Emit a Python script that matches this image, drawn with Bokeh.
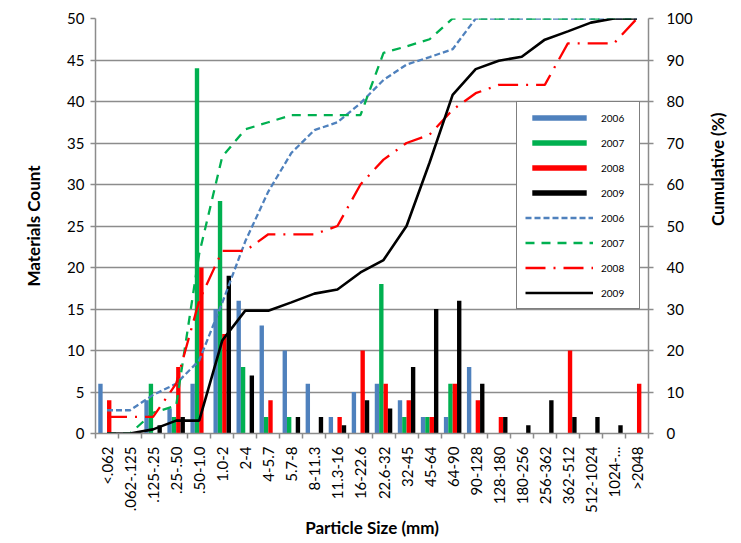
import numpy as np
from bokeh.plotting import figure
from bokeh.models import Range1d, LinearAxis, FixedTicker, Legend, LegendItem, ColumnDataSource, Grid
from bokeh.transform import dodge
from bokeh.embed import file_html
from bokeh.resources import INLINE

categories = ["<.062", ".062-.125", ".125-.25", ".25-.50", ".50-1.0", "1.0-2", "2-4",
              "4-5.7", "5.7-8", "8-11.3", "11.3-16", "16-22.6", "22.6-32", "32-45",
              "45-64", "64-90", "90-128", "128-180", "180-256", "256-362", "362-512",
              "512-1024", "1024-...", ">2048"]

count_2006 = [6, 0, 4, 3, 6, 15, 16, 13, 10, 6, 2, 5, 6, 4, 2, 2, 8, 0, 0, 0, 0, 0, 0, 0]
count_2007 = [0, 0, 6, 2, 44, 28, 8, 2, 2, 0, 0, 0, 18, 2, 2, 6, 0, 0, 0, 0, 0, 0, 0, 0]
count_2008 = [4, 0, 0, 8, 20, 12, 0, 4, 0, 0, 2, 10, 6, 4, 2, 6, 4, 2, 0, 0, 10, 0, 0, 6]
count_2009 = [0, 0, 1, 2, 0, 19, 7, 0, 2, 2, 1, 4, 3, 8, 15, 16, 6, 2, 1, 4, 2, 2, 1, 0]

cum_2006 = [5.6, 5.6, 9.3, 12.0, 17.6, 31.5, 46.3, 58.3, 67.6, 73.1, 75.0, 79.6, 85.2, 88.9,
            90.7, 92.6, 100, 100, 100, 100, 100, 100, 100, 100]
cum_2007 = [0, 0, 5.0, 6.7, 43.3, 66.7, 73.3, 75.0, 76.7, 76.7, 76.7, 76.7, 91.7, 93.3,
            95.0, 100, 100, 100, 100, 100, 100, 100, 100, 100]
cum_2008 = [4, 4, 4, 12, 32, 44, 44, 48, 48, 48, 50, 60, 66, 70, 72, 78, 82, 84, 84, 84,
            94, 94, 94, 100]
cum_2009 = [0, 0, 1.0, 3.1, 3.1, 22.4, 29.6, 29.6, 31.6, 33.7, 34.7, 38.8, 41.8, 50.0,
            65.3, 81.6, 87.8, 89.8, 90.8, 94.9, 96.9, 99.0, 100, 100]

years = ["2006", "2007", "2008", "2009"]
colors = ["#4F81BD", "#00B050", "#FF0000", "#000000"]

n = len(categories)
xpos = [i + 0.5 for i in range(n)]
src = ColumnDataSource(dict(x=xpos, c2006=count_2006, c2007=count_2007, c2008=count_2008,
                            c2009=count_2009, k2006=cum_2006, k2007=cum_2007,
                            k2008=cum_2008, k2009=cum_2009))

FONT = "Lato"
GRID = "#8C8C8C"

p = figure(width=741, height=543, output_backend="svg", toolbar_location=None,
           x_range=Range1d(0, n), y_range=Range1d(0, 50),
           min_border_left=95, min_border_right=92, min_border_top=18, min_border_bottom=110,
           x_axis_type=None, y_axis_type=None)
p.outline_line_color = None
p.extra_y_ranges = {"cum": Range1d(0, 100)}


def style_axis(ax, title, label_standoff, title_standoff):
    ax.major_tick_in = 0
    ax.minor_tick_in = 0
    ax.major_tick_line_color = GRID
    ax.major_tick_line_width = 1.5
    ax.minor_tick_line_color = GRID
    ax.minor_tick_line_width = 1.5
    ax.axis_line_color = GRID
    ax.axis_line_width = 1.5
    ax.major_label_text_font = FONT
    ax.major_label_text_font_size = "15px"
    ax.major_label_text_color = "#000000"
    ax.major_label_standoff = label_standoff
    ax.axis_label = title
    ax.axis_label_text_font = FONT
    ax.axis_label_text_font_size = "17px"
    ax.axis_label_text_font_style = "bold"
    ax.axis_label_text_color = "#000000"
    ax.axis_label_standoff = title_standoff


# bottom axis: labels at centres, ticks at boundaries
xax = LinearAxis(ticker=FixedTicker(ticks=xpos, minor_ticks=list(range(n + 1))))
style_axis(xax, "Particle Size (mm)", 8, 1)
xax.major_label_overrides = {x: c for x, c in zip(xpos, categories)}
xax.major_label_orientation = np.pi / 2
xax.major_tick_out = 0
xax.minor_tick_out = 5
p.add_layout(xax, "below")

yax = LinearAxis(ticker=FixedTicker(ticks=list(range(0, 51, 5))))
style_axis(yax, "Materials Count", 6, 20)
yax.major_tick_out = 5
yax.minor_tick_out = 0
p.add_layout(yax, "left")

rax = LinearAxis(y_range_name="cum", ticker=FixedTicker(ticks=list(range(0, 101, 10))))
style_axis(rax, "Cumulative (%)", 13, 22)
rax.major_tick_out = 5
rax.minor_tick_out = 0
if hasattr(rax, "axis_label_orientation"):
    rax.axis_label_orientation = np.pi / 2
p.add_layout(rax, "right")

p.ygrid.grid_line_color = None
p.xgrid.grid_line_color = None
p.add_layout(Grid(dimension=1, ticker=yax.ticker, grid_line_color=GRID, grid_line_width=1.5))

offsets = [-0.285, -0.095, 0.095, 0.285]
bar_r = []
for yr, col, off in zip(years, colors, offsets):
    r = p.vbar(x=dodge("x", off), top="c" + yr, width=0.19, source=src,
               fill_color=col, line_color=None)
    bar_r.append(r)

line_styles = [dict(line_dash="6 3", line_width=2.3),
               dict(line_dash="9 7", line_width=2.3),
               dict(line_dash="20 8 2 8", line_width=2.3),
               dict(line_dash="solid", line_width=2.6)]
line_r = []
for yr, col, st in zip(years, colors, line_styles):
    r = p.line(x="x", y="k" + yr, source=src, y_range_name="cum", line_color=col, **st)
    line_r.append(r)

items = [LegendItem(label=yr, renderers=[r]) for yr, r in zip(years, bar_r)]
items += [LegendItem(label=yr, renderers=[r]) for yr, r in zip(years, line_r)]
legend = Legend(items=items, location=(421, 124), orientation="vertical",
                glyph_width=68, glyph_height=7, label_height=15, spacing=10,
                padding=8, label_standoff=8, label_width=30,
                label_text_font=FONT, label_text_font_size="10px",
                label_text_color="#000000",
                border_line_color="#000000", border_line_width=1.5,
                background_fill_color="#FFFFFF", background_fill_alpha=1.0,
                margin=0)
p.add_layout(legend, "center")

open("out.html", "w").write(file_html(p, INLINE))
